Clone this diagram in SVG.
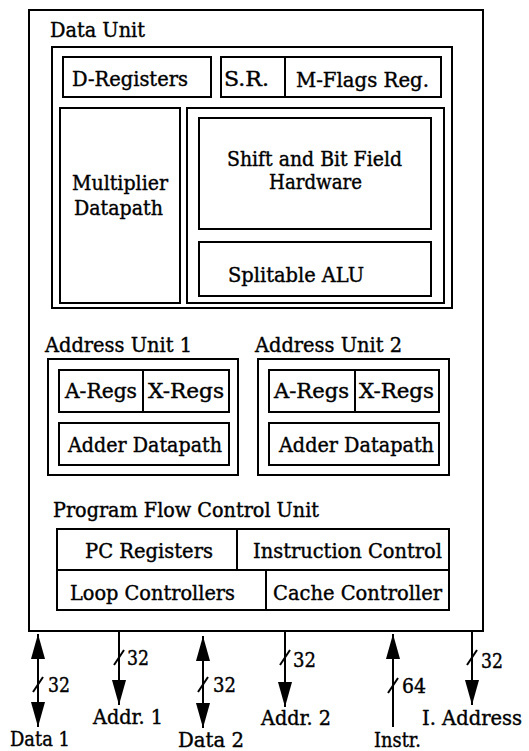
<svg xmlns="http://www.w3.org/2000/svg" width="529" height="751" viewBox="0 0 529 751">
<style>
.b{fill:none;stroke:#000;stroke-width:2}
text{font-family:'DejaVu Serif','Liberation Serif',serif;font-size:20px;fill:#000;stroke:#000;stroke-width:0.4}
.c{stroke:#000;stroke-width:2;fill:none}
</style>
<defs>
<marker id="ah" markerUnits="userSpaceOnUse" markerWidth="26" markerHeight="15" refX="25" refY="7" orient="auto-start-reverse">
<path d="M0,0 L25,7 L0,14 z" fill="#000"/>
</marker>
</defs>
<rect width="529" height="751" fill="#fff"/>
<g id="chip">
<rect class="b" x="29" y="10" width="454" height="621"/>
</g>
<g id="data-unit">
<rect class="b" x="52" y="47" width="400" height="261"/>
<text x="50" y="37" textLength="95" lengthAdjust="spacingAndGlyphs">Data Unit</text>
</g>
<g id="d-registers">
<rect class="b" x="63" y="57" width="148" height="40"/>
<text x="72" y="86" textLength="116" lengthAdjust="spacingAndGlyphs">D-Registers</text>
</g>
<g id="sr">
<rect class="b" x="221" y="57" width="64" height="40"/>
<text x="224" y="86" textLength="45" lengthAdjust="spacingAndGlyphs">S.R.</text>
</g>
<g id="m-flags">
<rect class="b" x="285" y="57" width="156" height="40"/>
<text x="296" y="87" textLength="133" lengthAdjust="spacingAndGlyphs">M-Flags Reg.</text>
</g>
<g id="multiplier">
<rect class="b" x="60" y="108" width="120" height="195"/>
<text x="72" y="190" textLength="96" lengthAdjust="spacingAndGlyphs">Multiplier</text>
<text x="74" y="215" textLength="89" lengthAdjust="spacingAndGlyphs">Datapath</text>
</g>
<g id="alu-block">
<rect class="b" x="187" y="108" width="257" height="195"/>
</g>
<g id="shift">
<rect class="b" x="199" y="118" width="232" height="111"/>
<text x="227" y="166" textLength="175" lengthAdjust="spacingAndGlyphs">Shift and Bit Field</text>
<text x="269" y="189" textLength="93" lengthAdjust="spacingAndGlyphs">Hardware</text>
</g>
<g id="alu">
<rect class="b" x="199" y="242" width="232" height="54"/>
<text x="228" y="282" textLength="136" lengthAdjust="spacingAndGlyphs">Splitable ALU</text>
</g>
<g id="address-unit-1">
<rect class="b" x="48" y="359" width="190" height="116"/>
<text x="45" y="352" textLength="147" lengthAdjust="spacingAndGlyphs">Address Unit 1</text>
</g>
<g id="au1-regs">
<rect class="b" x="59" y="370" width="170" height="42"/>
<line class="b" x1="143" y1="370" x2="143" y2="412"/>
<text x="65" y="398" textLength="72" lengthAdjust="spacingAndGlyphs">A-Regs</text>
<text x="148" y="398" textLength="76" lengthAdjust="spacingAndGlyphs">X-Regs</text>
</g>
<g id="au1-adder">
<rect class="b" x="59" y="423" width="170" height="42"/>
<text x="68" y="452" textLength="154" lengthAdjust="spacingAndGlyphs">Adder Datapath</text>
</g>
<g id="address-unit-2">
<rect class="b" x="258" y="359" width="191" height="116"/>
<text x="255" y="352" textLength="147" lengthAdjust="spacingAndGlyphs">Address Unit 2</text>
</g>
<g id="au2-regs">
<rect class="b" x="269" y="370" width="170" height="42"/>
<line class="b" x1="355" y1="370" x2="355" y2="412"/>
<text x="274" y="398" textLength="75" lengthAdjust="spacingAndGlyphs">A-Regs</text>
<text x="359" y="398" textLength="75" lengthAdjust="spacingAndGlyphs">X-Regs</text>
</g>
<g id="au2-adder">
<rect class="b" x="269" y="423" width="170" height="42"/>
<text x="279" y="452" textLength="155" lengthAdjust="spacingAndGlyphs">Adder Datapath</text>
</g>
<g id="pfcu">
<text x="53" y="517" textLength="266" lengthAdjust="spacingAndGlyphs">Program Flow Control Unit</text>
<rect class="b" x="57" y="529" width="392" height="81"/>
<line class="b" x1="57" y1="570" x2="449" y2="570"/>
<line class="b" x1="237" y1="529" x2="237" y2="570"/>
<line class="b" x1="266" y1="570" x2="266" y2="610"/>
<text x="85" y="558" textLength="128" lengthAdjust="spacingAndGlyphs">PC Registers</text>
<text x="253" y="558" textLength="189" lengthAdjust="spacingAndGlyphs">Instruction Control</text>
<text x="70" y="600" textLength="165" lengthAdjust="spacingAndGlyphs">Loop Controllers</text>
<text x="273" y="600" textLength="169" lengthAdjust="spacingAndGlyphs">Cache Controller</text>
</g>
<g id="connectors">
<line class="c" x1="38" y1="634" x2="38" y2="727" marker-start="url(#ah)" marker-end="url(#ah)"/>
<line class="c" x1="33" y1="692" x2="43" y2="677"/>
<line class="c" x1="119" y1="631" x2="119" y2="705" marker-end="url(#ah)"/>
<line class="c" x1="114" y1="665" x2="124" y2="650"/>
<line class="c" x1="203" y1="636" x2="203" y2="728" marker-start="url(#ah)" marker-end="url(#ah)"/>
<line class="c" x1="198" y1="692" x2="208" y2="677"/>
<line class="c" x1="285" y1="631" x2="285" y2="707" marker-end="url(#ah)"/>
<line class="c" x1="280" y1="665" x2="290" y2="650"/>
<line class="c" x1="393" y1="727" x2="393" y2="634" marker-end="url(#ah)"/>
<line class="c" x1="388" y1="693" x2="398" y2="678"/>
<line class="c" x1="472" y1="631" x2="472" y2="705" marker-end="url(#ah)"/>
<line class="c" x1="467" y1="665" x2="477" y2="650"/>
</g>
<g id="labels">
<text x="48" y="692" textLength="22" lengthAdjust="spacingAndGlyphs">32</text>
<text x="127" y="665" textLength="22" lengthAdjust="spacingAndGlyphs">32</text>
<text x="213" y="692" textLength="23" lengthAdjust="spacingAndGlyphs">32</text>
<text x="293" y="667" textLength="23" lengthAdjust="spacingAndGlyphs">32</text>
<text x="402" y="693" textLength="24" lengthAdjust="spacingAndGlyphs">64</text>
<text x="481" y="668" textLength="22" lengthAdjust="spacingAndGlyphs">32</text>
<text x="10" y="746" textLength="60" lengthAdjust="spacingAndGlyphs">Data 1</text>
<text x="93" y="724" textLength="70" lengthAdjust="spacingAndGlyphs">Addr. 1</text>
<text x="178" y="747" textLength="66" lengthAdjust="spacingAndGlyphs">Data 2</text>
<text x="261" y="725" textLength="70" lengthAdjust="spacingAndGlyphs">Addr. 2</text>
<text x="374" y="747" textLength="47" lengthAdjust="spacingAndGlyphs">Instr.</text>
<text x="422" y="725" textLength="100" lengthAdjust="spacingAndGlyphs">I. Address</text>
</g>
</svg>
